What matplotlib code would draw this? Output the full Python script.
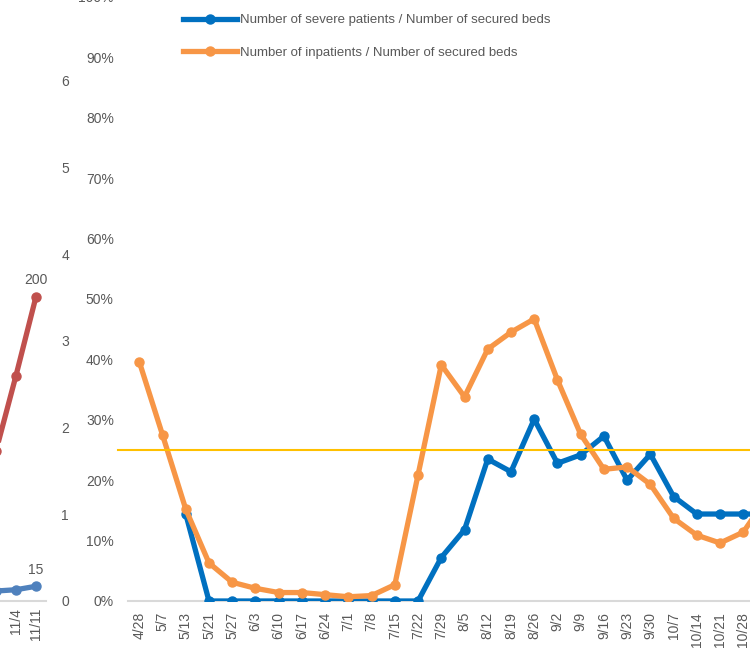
import numpy as np
import matplotlib.pyplot as plt

plt.rcParams['font.family'] = ['Liberation Sans', 'DejaVu Sans']

# right chart: weekly ratios (percent)
weeks = ['4/28', '5/7', '5/13', '5/21', '5/27', '6/3', '6/10', '6/17', '6/24',
         '7/1', '7/8', '7/15', '7/22', '7/29', '8/5', '8/12', '8/19', '8/26',
         '9/2', '9/9', '9/16', '9/23', '9/30', '10/7', '10/14', '10/21', '10/28', '11/4']
severe_ratio = [np.nan, np.nan, 14.4, 0, 0, 0, 0, 0, 0, 0, 0, 0, 0, 7.2, 11.8,
                23.5, 21.4, 30.1, 22.8, 24.2, 27.3, 20.0, 24.3, 17.3, 14.4, 14.4, 14.4, 14.4]
inpatient_ratio = [39.6, 27.5, 15.2, 6.3, 3.1, 2.1, 1.4, 1.4, 1.05, 0.7, 0.9, 2.7,
                   20.9, 39.1, 33.8, 41.7, 44.5, 46.7, 36.6, 27.6, 21.8, 22.2, 19.3,
                   13.7, 10.9, 9.6, 11.4, 17.0]
threshold = 25

# left chart (cut off at the image edge)
left_dates = ['10/28', '11/4', '11/11']
left_red = [1.73, 2.6, 3.51]
left_blue = [0.115, 0.13, 0.17]
left_red_label = '200'
left_blue_label = '15'

W, H = 750, 655
text_c = '#595959'
grid_c = '#D9D9D9'

fig = plt.figure(figsize=(7.5, 6.55), dpi=100)

# ---- main chart ----
step = 23.23
x0 = 139.3 - step / 2
ax = fig.add_axes([x0 / W, 54 / H, step * len(weeks) / W, 604 / H])
x = np.arange(len(weeks))
ax.plot(x, severe_ratio, color='#0070C0', lw=3.8, marker='o', ms=6.5,
        label='Number of severe patients / Number of secured beds', zorder=3)
ax.plot(x, inpatient_ratio, color='#F79646', lw=3.8, marker='o', ms=6.5,
        label='Number of inpatients / Number of secured beds', zorder=4)
ax.plot([-0.9, len(weeks)], [threshold, threshold], color='#FFC000', lw=1.5,
        clip_on=False, zorder=5)
ax.set_xlim(-0.5, len(weeks) - 0.5)
ax.set_ylim(0, 100)
ax.set_yticks(np.arange(0, 101, 10))
ax.set_yticklabels([f'{v}%' for v in range(0, 101, 10)])
ax.set_xticks(x)
ax.set_xticklabels(weeks, rotation=90)
for s in ['top', 'right', 'left']:
    ax.spines[s].set_visible(False)
ax.spines['bottom'].set_color(grid_c)
ax.spines['bottom'].set_linewidth(1.5)
ax.tick_params(axis='both', length=0, colors=text_c, labelsize=10)
ax.tick_params(axis='y', pad=10)
ax.tick_params(axis='x', pad=8)

leg = ax.legend(loc='upper left', bbox_to_anchor=(183 / W, 1 - 14 / H),
                bbox_transform=fig.transFigure, frameon=False, fontsize=9.5,
                handlelength=4.1, handletextpad=0.2, labelspacing=1.55,
                borderpad=0, borderaxespad=0)
for t in leg.get_texts():
    t.set_color(text_c)

# ---- left, partially visible chart ----
ax2 = fig.add_axes([-14 / W, 54 / H, 60 / W, 607 / H])
lx = np.arange(len(left_dates))
ax2.plot(lx, left_red, color='#C0504D', lw=3.8, marker='o', ms=6.5, clip_on=False)
ax2.plot(lx, left_blue, color='#4F81BD', lw=3.8, marker='o', ms=6.5, clip_on=False)
ax2.annotate(left_red_label, (lx[-1], left_red[-1]), xytext=(0, 7),
             textcoords='offset points', ha='center', va='bottom',
             color=text_c, fontsize=10)
ax2.annotate(left_blue_label, (lx[-1], left_blue[-1]), xytext=(0, 7),
             textcoords='offset points', ha='center', va='bottom',
             color=text_c, fontsize=10)
ax2.set_xlim(-0.5, len(left_dates) - 0.5)
ax2.set_ylim(0, 7)
ax2.set_yticks(range(0, 7))
ax2.yaxis.tick_right()
ax2.set_xticks(lx)
ax2.set_xticklabels(left_dates, rotation=90)
for s in ['top', 'right', 'left']:
    ax2.spines[s].set_visible(False)
ax2.spines['bottom'].set_color(grid_c)
ax2.spines['bottom'].set_linewidth(1.5)
ax2.tick_params(axis='both', length=0, colors=text_c, labelsize=10)
ax2.tick_params(axis='y', pad=11)
ax2.tick_params(axis='x', pad=5)

fig.savefig('out.png', dpi=100)
